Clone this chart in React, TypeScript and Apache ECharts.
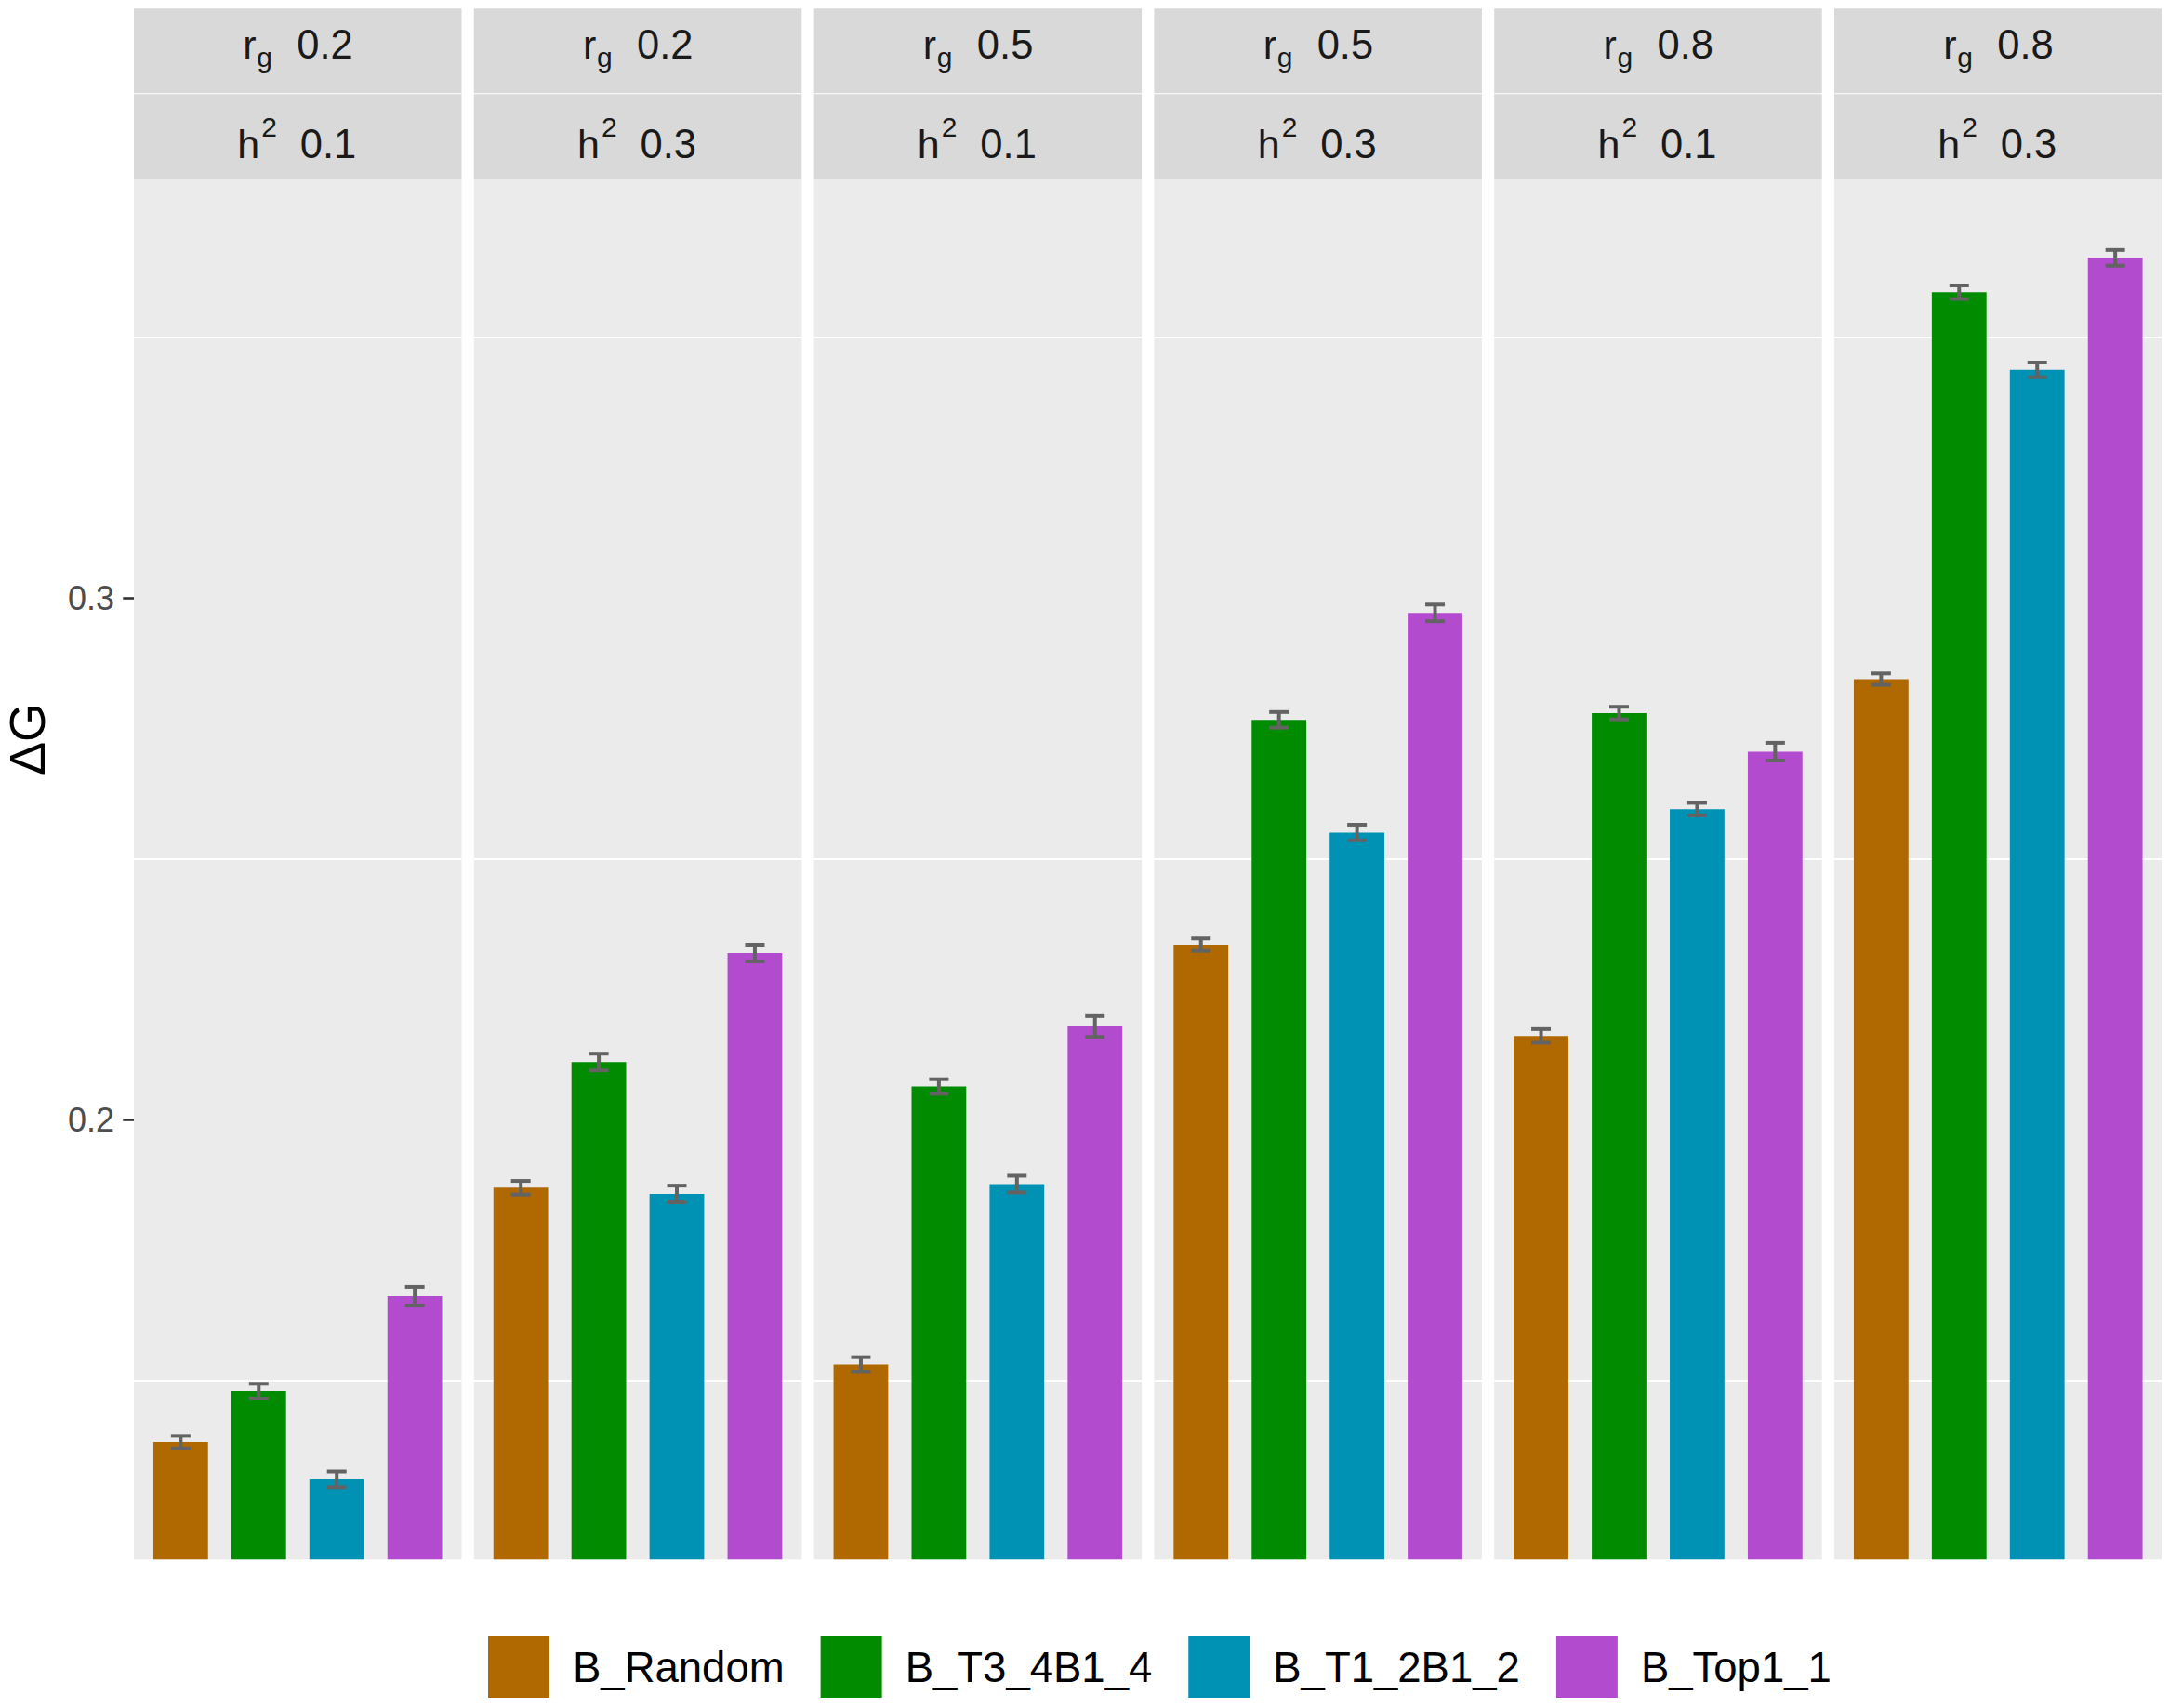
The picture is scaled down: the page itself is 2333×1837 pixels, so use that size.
import React, { useEffect, useRef } from "react";
import * as echarts from "echarts";

// ---- data ----
const seriesNames = ["B_Random", "B_T3_4B1_4", "B_T1_2B1_2", "B_Top1_1"];
const seriesColors = ["#B06800", "#008B00", "#0092B4", "#B34BCF"];
const rgLabels = ["0.2", "0.2", "0.5", "0.5", "0.8", "0.8"];
const h2Labels = ["0.1", "0.3", "0.1", "0.3", "0.1", "0.3"];

const randomVals = [0.1382, 0.187, 0.1531, 0.2336, 0.2161, 0.2845];
const t34Vals = [0.148, 0.2111, 0.2064, 0.2767, 0.278, 0.3587];
const t12Vals = [0.1311, 0.1858, 0.1877, 0.2551, 0.2596, 0.3438];
const topVals = [0.1662, 0.232, 0.2179, 0.2972, 0.2706, 0.3653];

const randomErr = [0.0012, 0.0013, 0.0014, 0.0012, 0.0013, 0.0011];
const t34Err = [0.0014, 0.0016, 0.0014, 0.0015, 0.0012, 0.0013];
const t12Err = [0.0015, 0.0016, 0.0016, 0.0015, 0.0012, 0.0014];
const topErr = [0.0018, 0.0016, 0.002, 0.0016, 0.0017, 0.0015];

const yTickValues = [0.2, 0.3];
const yMinorGrid = [0.15, 0.25, 0.35];
const Y_MIN = 0.1157;
const Y_MAX = 0.3805;
const X_MIN = 0.4;
const X_MAX = 4.6;

const allVals = [randomVals, t34Vals, t12Vals, topVals];
const allErr = [randomErr, t34Err, t12Err, topErr];

// ---- layout ----
const FONT = "'Liberation Sans', Arial, Helvetica, sans-serif";
const PANEL_LEFT = 144;
const PANEL_STEP = 365.8;
const PANEL_W = 352.5;
const PANEL_TOP = 192;
const PANEL_BOTTOM = 1677.3;
const STRIP_TOP = 9.3;
const STRIP_MID = 100.7;

function buildOption() {
  const nPanels = rgLabels.length;
  const grids: any[] = [];
  const xAxes: any[] = [];
  const yAxes: any[] = [];
  const series: any[] = [];
  const graphics: any[] = [];

  for (let g = 0; g < nPanels; g++) {
    const left = PANEL_LEFT + g * PANEL_STEP;
    grids.push({
      left,
      top: PANEL_TOP,
      width: PANEL_W,
      height: PANEL_BOTTOM - PANEL_TOP,
      show: true,
      backgroundColor: "#EBEBEB",
      borderWidth: 0,
    });
    xAxes.push({
      gridIndex: g,
      type: "value",
      min: X_MIN,
      max: X_MAX,
      show: false,
      splitLine: { show: false },
    });
    yAxes.push({
      gridIndex: g,
      type: "value",
      min: Y_MIN,
      max: Y_MAX,
      splitLine: { show: false },
      axisLine: { show: false },
      axisTick: {
        show: g === 0,
        customValues: yTickValues,
        length: 11.7,
        lineStyle: { color: "#333333", width: 2.6 },
      },
      axisLabel: {
        show: g === 0,
        customValues: yTickValues,
        formatter: (v: number) => v.toFixed(1),
        fontSize: 36,
        fontFamily: FONT,
        color: "#4D4D4D",
        margin: 21,
      },
    });

    // minor grid lines (behind bars)
    series.push({
      type: "custom",
      xAxisIndex: g,
      yAxisIndex: g,
      silent: true,
      z: 1,
      encode: { x: [0, 2], y: 1 },
      data: yMinorGrid.map((v) => [X_MIN, v, X_MAX]),
      renderItem: (params: any, api: any) => {
        const p1 = api.coord([api.value(0), api.value(1)]);
        const p2 = api.coord([api.value(2), api.value(1)]);
        return {
          type: "line",
          shape: { x1: p1[0], y1: p1[1], x2: p2[0], y2: p2[1] },
          style: { stroke: "#FFFFFF", lineWidth: 2 },
        };
      },
    });

    // bars
    for (let s = 0; s < seriesNames.length; s++) {
      series.push({
        type: "bar",
        name: seriesNames[s],
        xAxisIndex: g,
        yAxisIndex: g,
        barWidth: 58.8,
        barGap: "-100%",
        z: 2,
        itemStyle: { color: seriesColors[s] },
        data: [[s + 1, allVals[s][g]]],
      });
    }

    // error bars
    series.push({
      type: "custom",
      xAxisIndex: g,
      yAxisIndex: g,
      silent: true,
      z: 3,
      encode: { x: 0, y: [1, 2] },
      data: seriesNames.map((_, s) => [
        s + 1,
        allVals[s][g] - allErr[s][g],
        allVals[s][g] + allErr[s][g],
      ]),
      renderItem: (params: any, api: any) => {
        const x = api.value(0);
        const lo = api.coord([x, api.value(1)]);
        const hi = api.coord([x, api.value(2)]);
        const hw = api.size([0.25, 0])[0] / 2;
        const st = { stroke: "#636363", lineWidth: 4 };
        return {
          type: "group",
          children: [
            { type: "line", shape: { x1: hi[0], y1: hi[1], x2: lo[0], y2: lo[1] }, style: st },
            { type: "line", shape: { x1: hi[0] - hw, y1: hi[1], x2: hi[0] + hw, y2: hi[1] }, style: st },
            { type: "line", shape: { x1: lo[0] - hw, y1: lo[1], x2: lo[0] + hw, y2: lo[1] }, style: st },
          ],
        };
      },
    });

    // strips
    const cx = left + PANEL_W / 2;
    graphics.push({
      type: "rect",
      shape: { x: left, y: STRIP_TOP, width: PANEL_W, height: STRIP_MID - STRIP_TOP - 0.5 },
      style: { fill: "#D9D9D9" },
      silent: true,
    });
    graphics.push({
      type: "rect",
      shape: { x: left, y: STRIP_MID + 0.5, width: PANEL_W, height: PANEL_TOP - STRIP_MID - 0.5 },
      style: { fill: "#D9D9D9" },
      silent: true,
    });
    const txt = (text: string, x: number, y: number, size: number) => ({
      type: "text",
      x,
      y,
      silent: true,
      style: {
        text,
        fontSize: size,
        fontFamily: FONT,
        fill: "#1A1A1A",
        align: "left",
        verticalAlign: "middle",
      },
    });
    graphics.push(txt("r", cx - 59, 48.4, 43));
    graphics.push(txt("g", cx - 44, 61.6, 30));
    graphics.push(txt(rgLabels[g], cx - 1, 48.4, 43.5));
    graphics.push(txt("h", cx - 65, 154.6, 43));
    graphics.push(txt("2", cx - 39, 136.1, 30));
    graphics.push(txt(h2Labels[g], cx + 2.5, 154.6, 43.5));
  }

  // y-axis title
  graphics.push({
    type: "text",
    x: 29,
    y: 795,
    rotation: Math.PI / 2,
    silent: true,
    style: {
      text: "ΔG",
      fontSize: 54,
      fontFamily: FONT,
      fill: "#000000",
      align: "center",
      verticalAlign: "middle",
    },
  });

  return {
    animation: false,
    backgroundColor: "#FFFFFF",
    grid: grids,
    xAxis: xAxes,
    yAxis: yAxes,
    series,
    graphic: { elements: graphics },
    legend: {
      data: seriesNames,
      orient: "horizontal",
      left: 525,
      top: 1760,
      padding: 0,
      itemWidth: 66,
      itemHeight: 66,
      itemGap: 39,
      icon: "rect",
      selectedMode: false,
      textStyle: {
        fontSize: 45.5,
        fontFamily: FONT,
        color: "#000000",
        padding: [0, 0, 0, 20],
      },
    },
  };
}

export default function App() {
  const ref = useRef<HTMLDivElement | null>(null);
  useEffect(() => {
    if (!ref.current) return;
    const chart = echarts.init(ref.current, undefined, { renderer: "svg" });
    chart.setOption(buildOption() as any);
    return () => {
      chart.dispose();
    };
  }, []);
  return (
    <div
      ref={ref}
      style={{
        position: "fixed",
        left: 0,
        top: 0,
        width: 2333,
        height: 1837,
        background: "#FFFFFF",
      }}
    />
  );
}
